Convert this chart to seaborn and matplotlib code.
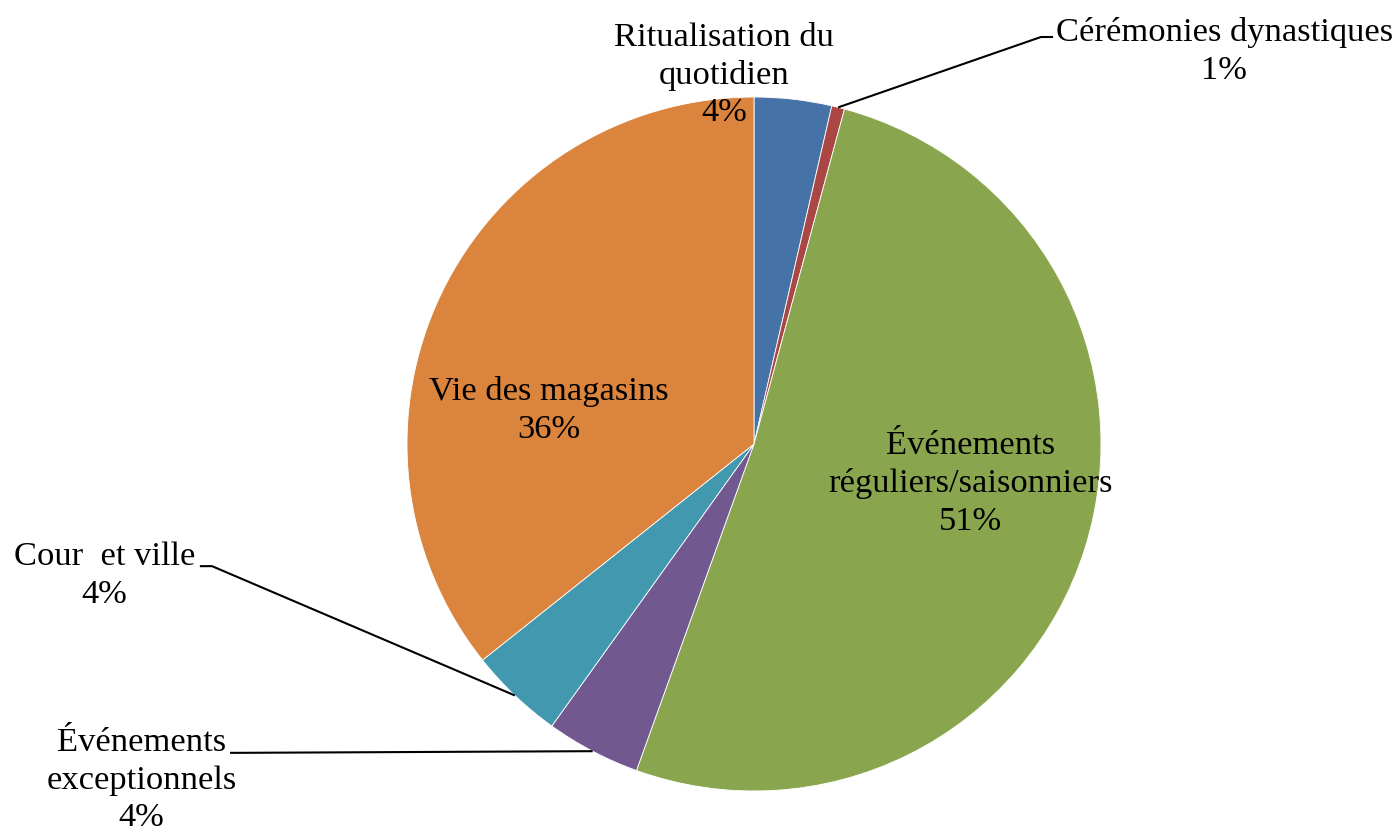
import numpy as np
import matplotlib
matplotlib.use("Agg")
import matplotlib.pyplot as plt
import seaborn as sns

# slice data, clockwise from 12 o'clock
categories = ["Ritualisation du\nquotidien", "Cérémonies dynastiques",
              "Événements\nréguliers/saisonniers", "Événements\nexceptionnels",
              "Cour  et ville", "Vie des magasins"]
shares = [3.6, 0.6, 51.3, 4.4, 4.4, 35.7]
colors = ["#4572A7", "#AA4643", "#89A54E", "#71588F", "#4198AF", "#DB843D"]

sns.set_style("white")
plt.rcParams['font.family'] = ['Liberation Serif', 'DejaVu Serif']

fig = plt.figure(figsize=(13.99, 8.35), dpi=100)
ax = fig.add_axes([0.2909, 0.0527, 0.4961, 0.8311])

palette = sns.color_palette(colors)
wedges, _ = ax.pie(shares, colors=palette, startangle=90, counterclock=False,
                   radius=1, wedgeprops=dict(linewidth=0.6, edgecolor="white"))
ax.set_xlim(-1, 1)
ax.set_ylim(-1, 1)
ax.set_aspect('equal')
ax.axis('off')

# label positions (data coords) and leader-line stubs
label_pos = [(-0.086, 1.063), (1.355, 1.132), (0.625, -0.114),
             (-1.765, -0.970), (-1.872, -0.380), (-0.590, 0.096)]
stubs = {1: [(0.862, 1.173), (0.827, 1.173)],
         3: [(-1.510, -0.890), (-1.476, -0.890)],
         4: [(-1.597, -0.352), (-1.562, -0.352)]}

for i, (name, v) in enumerate(zip(categories, shares)):
    x, y = label_pos[i]
    ax.text(x, y, f"{name}\n{v:.0f}%", ha="center", va="center",
            fontsize=24.8, linespacing=1.3, color="black", clip_on=False)
    if i in stubs:
        mid = 90 - (sum(shares[:i]) + v / 2) / 100 * 360
        ex, ey = np.cos(np.radians(mid)), np.sin(np.radians(mid))
        (x0, y0), (x1, y1) = stubs[i]
        ax.plot([x0, x1, ex], [y0, y1, ey], color="black", lw=1.5,
                clip_on=False, solid_capstyle="butt")

fig.savefig("out.png", dpi=100, facecolor="white")
